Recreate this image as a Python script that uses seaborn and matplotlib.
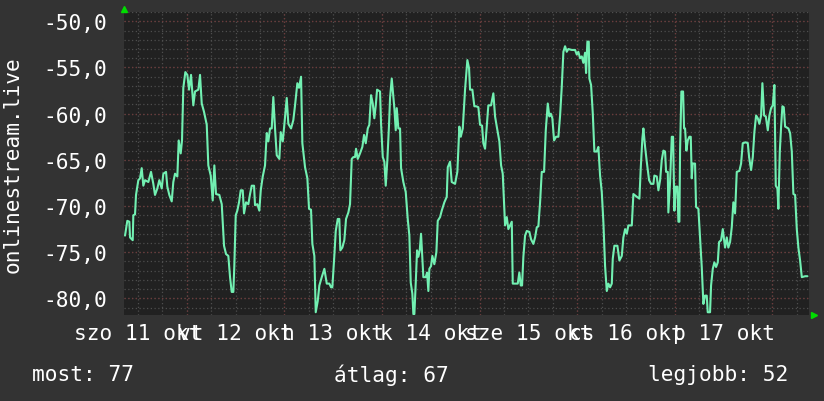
import numpy as np
import pandas as pd
import seaborn as sns
import matplotlib.pyplot as plt

# hours since 2025-10-11 00:00 and the measured value
hours = [8.83, 9.39, 9.89, 10.06, 10.72, 10.87, 11.29, 11.53, 12.10, 12.52, 12.93, 13.33, 13.75, 14.56,
         15.22, 15.79, 16.20, 16.77, 17.26, 17.85, 18.25, 18.91, 19.23, 19.72, 20.31, 20.70, 21.12, 21.69,
         22.03, 22.52, 22.84, 23.16, 23.66, 24.15, 24.57, 25.06, 25.62, 26.04, 26.85, 27.27, 27.69, 28.25,
         28.92, 29.31, 29.90, 30.39, 30.79, 31.20, 32.02, 32.61, 33.17, 33.66, 34.23, 34.65, 35.06, 35.46,
         35.70, 36.05, 36.44, 36.86, 37.28, 37.77, 38.09, 38.58, 39.15, 39.57, 39.98, 40.55, 40.79, 41.36,
         41.85, 42.20, 42.69, 43.25, 43.67, 44.07, 44.48, 44.90, 45.29, 45.71, 46.13, 46.77, 47.11, 47.61,
         48.00, 48.59, 48.98, 49.65, 50.21, 50.63, 51.20, 51.61, 52.11, 52.43, 53.09, 53.66, 54.07, 54.56,
         54.89, 55.38, 55.72, 56.21, 56.61, 57.20, 57.84, 58.43, 59.07, 59.48, 59.80, 60.29, 60.64, 61.13,
         61.52, 61.77, 62.26, 62.75, 63.17, 63.74, 64.15, 64.57, 64.97, 65.38, 65.63, 66.05, 66.61, 67.18,
         67.60, 68.02, 68.51, 68.90, 69.32, 69.74, 70.13, 70.48, 70.80, 71.53, 71.78, 72.20, 72.59, 72.93,
         73.33, 73.74, 73.99, 74.41, 74.80, 75.05, 75.39, 75.64, 76.03, 76.45, 76.70, 77.26, 77.85, 78.34,
         78.74, 79.08, 79.48, 79.72, 79.97, 80.31, 80.63, 80.95, 81.29, 81.61, 81.93, 82.18, 82.77, 83.09,
         83.41, 83.66, 84.07, 84.39, 84.88, 85.38, 85.72, 86.29, 86.70, 87.34, 87.93, 88.18, 88.74, 89.16,
         89.97, 90.54, 91.03, 91.38, 91.87, 92.43, 93.00, 93.42, 93.66, 94.23, 94.72, 95.14, 95.70, 96.12,
         96.61, 96.93, 97.35, 97.77, 98.16, 98.82, 99.39, 99.81, 100.23, 100.87, 101.29, 101.70, 102.27,
         102.69, 103.08, 103.50, 103.92, 104.16, 104.73, 105.39, 105.78, 106.13, 106.45, 106.77, 107.19,
         107.61, 108.25, 108.66, 109.23, 109.65, 110.07, 110.46, 110.88, 111.29, 111.86, 112.28, 112.77,
         113.16, 113.51, 113.90, 114.32, 114.81, 115.38, 115.80, 116.21, 116.61, 117.02, 117.44, 117.83,
         118.67, 119.48, 119.90, 120.29, 120.71, 121.13, 121.52, 121.94, 122.19, 122.51, 122.85, 123.00,
         123.42, 123.84, 124.23, 124.82, 125.21, 125.63, 126.05, 126.44, 126.86, 127.28, 127.67, 128.09,
         128.51, 128.75, 129.15, 129.89, 130.38, 130.97, 131.36, 131.78, 132.20, 132.59, 133.43, 133.82,
         134.66, 135.30, 135.64, 136.03, 136.28, 136.70, 137.11, 137.68, 138.17, 138.74, 138.98, 139.57,
         139.97, 140.39, 140.80, 141.20, 141.61, 141.86, 142.28, 142.42, 142.84, 143.26, 143.58, 143.90,
         144.24, 144.64, 144.89, 145.13, 145.30, 145.62, 146.04, 146.28, 146.53, 146.85, 147.19, 147.58,
         147.93, 148.17, 148.42, 148.98, 149.23, 149.80, 150.21, 150.63, 151.03, 151.44, 151.86, 152.10,
         152.67, 152.92, 153.34, 153.73, 154.15, 154.57, 154.89, 155.38, 155.80, 156.12, 156.36, 156.78,
         157.17, 157.59, 158.01, 158.40, 158.82, 159.24, 159.88, 160.30, 160.71, 161.45, 161.95, 162.27,
         162.76, 163.18, 163.57, 163.99, 164.41, 164.80, 165.22, 165.54, 165.96, 166.38, 166.87, 167.26,
         167.68, 168.09, 168.49, 168.83, 169.23, 169.47, 169.82, 170.14, 170.46, 170.80, 171.12, 171.93,
         172.35, 172.77, 173.16, 173.58, 174.00, 174.39, 174.81, 175.23, 176.05, 176.62]

values = [-73.2, -71.6, -71.7, -73.4, -73.7, -71.0, -70.9, -68.8, -67.2, -67.0, -65.9, -67.8, -67.2, -67.4,
          -66.3, -67.6, -68.8, -68.1, -67.2, -68.1, -66.5, -66.3, -67.9, -68.8, -69.5, -67.4, -66.5, -66.8,
          -62.9, -64.3, -62.9, -57.2, -55.5, -55.8, -57.4, -55.8, -59.1, -57.6, -57.4, -55.8, -58.9, -59.8,
          -61.2, -65.6, -66.7, -69.4, -65.6, -68.7, -68.8, -69.8, -74.3, -75.2, -75.4, -77.7, -79.3, -79.3,
          -76.5, -71.0, -70.5, -69.6, -68.3, -68.3, -70.8, -69.6, -69.8, -68.7, -67.8, -67.8, -69.9, -69.8,
          -70.5, -68.3, -66.8, -65.6, -62.1, -63.0, -61.6, -61.6, -58.2, -61.6, -64.5, -64.9, -62.0, -63.0,
          -61.2, -58.3, -61.1, -61.6, -60.7, -59.1, -56.7, -57.2, -56.0, -63.2, -65.8, -67.0, -70.3, -70.4,
          -74.1, -75.4, -81.5, -80.3, -78.6, -77.7, -76.8, -78.4, -78.4, -78.8, -78.8, -75.4, -72.7, -71.4,
          -71.4, -74.8, -74.5, -73.7, -71.4, -70.7, -69.8, -64.9, -64.7, -64.7, -63.8, -64.9, -64.3, -63.6,
          -62.3, -63.2, -61.6, -61.2, -58.0, -58.9, -60.5, -59.1, -57.4, -57.6, -61.1, -64.7, -65.2, -67.8,
          -65.0, -61.2, -58.3, -56.2, -58.2, -59.4, -61.8, -59.4, -61.6, -61.6, -65.9, -67.4, -68.5, -71.4,
          -73.2, -78.3, -79.5, -81.7, -81.7, -78.3, -74.8, -75.5, -74.8, -73.0, -75.7, -77.7, -77.7, -77.2,
          -79.2, -76.8, -76.5, -75.4, -76.3, -75.0, -71.6, -71.2, -70.5, -69.6, -69.0, -65.8, -65.2, -67.4,
          -67.6, -66.3, -61.4, -62.5, -61.6, -57.4, -54.2, -55.1, -57.4, -57.4, -59.2, -59.2, -59.3, -61.2,
          -61.3, -63.2, -63.8, -61.4, -59.1, -59.1, -57.8, -60.3, -61.4, -63.0, -65.6, -66.5, -72.1,
          -71.2, -72.5, -72.1, -71.7, -78.4, -78.4, -78.4, -77.2, -78.6, -78.6, -75.5, -73.2,
          -72.7, -72.8, -73.6, -74.1, -73.4, -72.3, -72.2, -69.6, -66.3, -66.3, -61.8, -58.9,
          -60.3, -60.0, -60.5, -62.9, -62.5, -62.5, -60.2, -57.1, -53.3, -52.7, -53.3, -53.0,
          -53.1, -53.1, -53.6, -53.3, -54.0, -53.8, -54.5, -53.4, -55.6, -52.2, -52.2, -56.2,
          -56.9, -60.0, -64.1, -64.1, -63.6, -66.7, -68.5, -71.7, -76.5, -79.2, -78.4, -78.8,
          -78.4, -75.7, -74.3, -74.3, -75.9, -75.4, -73.4, -72.5, -73.0, -72.1, -72.1, -68.7,
          -69.0, -69.2, -65.8, -62.7, -61.6, -63.6, -65.2, -67.2, -67.6, -67.6, -66.7, -66.8,
          -68.3, -67.2, -65.0, -64.0, -64.1, -66.3, -66.3, -70.7, -67.4, -62.5, -62.5, -70.5,
          -67.9, -67.9, -71.7, -71.7, -64.0, -57.6, -57.6, -61.6, -61.6, -64.0, -62.9, -62.5,
          -62.5, -67.0, -65.4, -65.4, -70.1, -70.3, -73.4, -76.6, -80.6, -79.7, -79.7, -81.5,
          -81.5, -78.6, -76.8, -76.1, -76.6, -76.1, -73.9, -73.7, -72.5, -73.7, -74.5, -73.4,
          -74.5, -73.9, -72.3, -69.6, -70.8, -66.3, -66.2, -65.4, -63.2, -63.1, -63.2, -64.7,
          -66.1, -64.7, -62.0, -60.2, -60.5, -61.1, -60.2, -56.7, -60.2, -60.3, -61.8, -60.2,
          -59.4, -59.1, -56.9, -67.8, -68.1, -70.3, -64.1, -61.4, -59.2, -59.3, -61.4, -61.6,
          -62.1, -64.1, -68.7, -68.8, -72.5, -74.5, -75.9, -77.7, -77.6, -77.6]

day_labels = ["szo 11 okt", "vt 12 okt", "h 13 okt", "k 14 okt", "sze 15 okt", "cs 16 okt", "p 17 okt"]
y_ticks = [-80, -75, -70, -65, -60, -55, -50]
y_label = "onlinestream.live"
summary = [("most", 77), ("átlag", 67), ("legjobb", 52)]

df = pd.DataFrame({"hour": hours, "value": values})

bg = "#333333"
plot_bg = "#212121"
fs = 15.2
sns.set_style("dark", rc={"axes.facecolor": plot_bg, "figure.facecolor": bg})
plt.rcParams["font.family"] = ["DejaVu Sans Mono"]

fig = plt.figure(figsize=(8.24, 4.02), dpi=100)
ax = fig.add_axes([0.1505, 0.2139, 0.8313, 0.7538])

# grid: grey dotted minor, red dotted at the main steps
minor_style = dict(color="#4e4e4e", lw=0.9, ls=(0, (1, 2)), zorder=0)
major_style = dict(color="#6e3a3a", lw=0.9, ls=(0, (1, 2)), zorder=0.5)
for h in np.arange(12, 178, 6):
    ax.axvline(h, **minor_style)
for d in range(1, 8):
    ax.axvline(24 * d, **major_style)
for v in range(-81, -48):
    ax.axhline(v, **minor_style)
for v in y_ticks:
    ax.axhline(v, **major_style)

sns.lineplot(data=df, x="hour", y="value", ax=ax, color="#72f0b2", lw=1.5,
             estimator=None, zorder=3)

ax.set_xlim(8.58, 177.0)
ax.set_ylim(-81.8, -48.99)
ax.set_xticks([12 + 24 * i for i in range(len(day_labels))])
ax.set_xticklabels(day_labels)
ax.set_yticks(y_ticks)
ax.set_yticklabels([f"{v:.1f}".replace(".", ",") for v in y_ticks])
ax.tick_params(axis="both", length=0, colors="white", labelsize=fs)
ax.tick_params(axis="y", pad=12)
ax.tick_params(axis="x", pad=6)
ax.set_xlabel("")
ax.set_ylabel(y_label, color="white", fontsize=fs)
ax.yaxis.set_label_coords(-0.148, 0.5)
for s in ax.spines.values():
    s.set_visible(False)

# small green arrows at the ends of the axes
ax.plot([0], [1.01], marker="^", color="#00dd00", ms=5, transform=ax.transAxes, clip_on=False)
ax.plot([1.008], [0], marker=">", color="#00dd00", ms=5, transform=ax.transAxes, clip_on=False)

xs = [0.039, 0.405, 0.787]
for x, (name, val) in zip(xs, summary):
    fig.text(x, 0.067, f"{name}: {val}", color="white", fontsize=fs, va="center")

fig.savefig("out.png", dpi=100, facecolor=bg)
